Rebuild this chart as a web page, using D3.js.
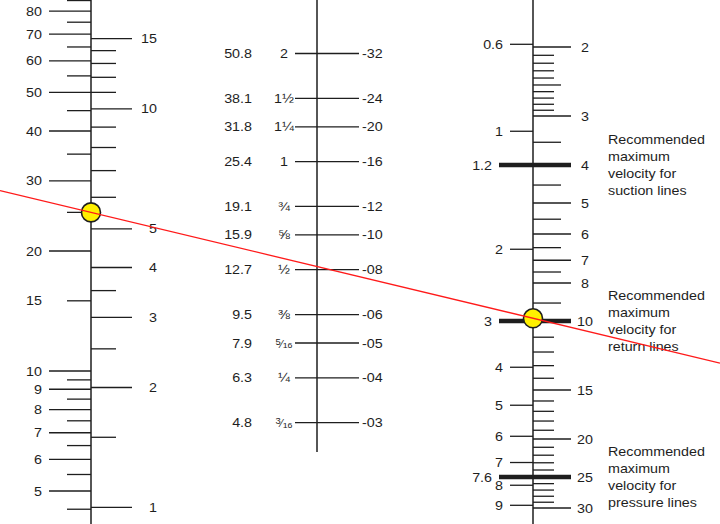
<!DOCTYPE html>
<html>
<head>
<meta charset="utf-8">
<script src="https://cdn.jsdelivr.net/npm/d3@7"></script>
<style>
  html, body { margin: 0; padding: 0; background: #fff; }
  svg { display: block; font-family: "Liberation Sans", Arial, Helvetica, sans-serif; }
  text { fill: #1e1e1e; }
</style>
</head>
<body>
<svg id="chart" width="720" height="524"></svg>
<script>
// ---- Flow scale (left): litres per minute and UK gallons per minute ----
const flowLpmLabels = [80, 70, 60, 50, 40, 30, 20, 15, 10, 9, 8, 7, 6, 5, 4];
const flowLpmMinor  = [85, 75, 65, 55, 45, 35, 25, 9.5, 8.5, 7.5, 6.5, 5.5, 4.5];
const flowGpmLabels = [15, 10, 5, 4, 3, 2, 1];
const flowGpmMinor  = [14, 13, 12, 11, 9, 8, 7, 6, 3.5, 2.5, 1.5];
const litresPerGallon = 4.546;

// ---- Pipe bore (middle): mm, inches, dash size ----
const boreMm     = ["50.8", "38.1", "31.8", "25.4", "19.1", "15.9", "12.7", "9.5", "7.9", "6.3", "4.8"];
const boreInches = [2, 1.5, 1.25, 1, 0.75, 0.625, 0.5, 0.375, 0.3125, 0.25, 0.1875];
const boreInchLabels = ["2", "1½", "1¼", "1", "¾", "⅝", "½", "⅜", "5/16", "¼", "3/16"];
const boreDash   = ["-32", "-24", "-20", "-16", "-12", "-10", "-08", "-06", "-05", "-04", "-03"];

// ---- Velocity scale (right): metres per second and feet per second ----
const velMsLabels  = [0.6, 1, 2, 4, 5, 6, 7, 8, 9];
const velFtLabels  = [2, 3, 5, 6, 7, 8, 15, 20, 30];
const velFtHalf    = [2.5, 3.5, 4.5, 5.5, 6.5, 7.5, 9];
const velFtSmall   = [2.1, 2.2, 2.3, 2.4, 2.6, 2.7, 2.8, 2.9,
                      11, 12, 13, 14, 16, 17, 18, 19, 21, 22, 23, 24, 26, 27, 28, 29];
const feetPerMetre = 0.3048;

// Recommended maximum velocities (m/s, ft/s)
const recommendedMs = ["1.2", "3", "7.6"];
const recommendedFt = [4, 10, 25];
const recommendedText = [
  ["Recommended", "maximum", "velocity for", "suction lines"],
  ["Recommended", "maximum", "velocity for", "return lines"],
  ["Recommended", "maximum", "velocity for", "pressure lines"]
];

// Worked example: 25 L/min at 3 m/s
const exampleFlowLpm = 25;
const exampleVelMs = 3;

// ---------------------------------------------------------------
const svg = d3.select("#chart");
const W = 720, H = 524;
const xL = 91, xM = 317, xR = 533;
const ink = "#1e1e1e";

const yFlow = d3.scaleLog().domain([10, 100]).range([371, -27.6]);
const yBore = d3.scaleLog().domain([1, 2]).range([161.6, 53.5]);
const yVel  = d3.scaleLog().domain([2, 30]).range([47, 508]);
const yMs = v => yVel(v / feetPerMetre);

function label(x, y, str, anchor, size) {
  const g = svg.append("g").attr("transform", `translate(${x},${y}) scale(1.1,1)`);
  const t = g.append("text").attr("text-anchor", anchor).attr("font-size", size || 13);
  return t.text(str);
}
function tick(x1, x2, y, w) {
  svg.append("line").attr("x1", x1).attr("x2", x2).attr("y1", y).attr("y2", y)
    .attr("stroke", ink).attr("stroke-width", w || 1.3);
}

// ---- Axis lines ----
[[xL, 0, H], [xM, 0, 452], [xR, 0, H]].forEach(([x, a, b]) => {
  svg.append("line").attr("x1", x).attr("x2", x).attr("y1", a).attr("y2", b)
    .attr("stroke", ink).attr("stroke-width", 1.5);
});

// ---- Left: flow ----
flowLpmMinor.forEach(v => tick(xL - 24, xL, yFlow(v)));
flowLpmLabels.forEach(v => {
  const y = yFlow(v);
  tick(v === 15 ? xL - 24 : xL - 42, xL, y);
  label(42, y + 4.6, String(v), "end");
});
flowGpmMinor.forEach(v => tick(xL, xL + 25, yFlow(v * litresPerGallon)));
flowGpmLabels.forEach(v => {
  const y = yFlow(v * litresPerGallon);
  tick(xL, xL + 41, y);
  label(157, y + 4.6, String(v), "end");
});

// ---- Middle: bore ----
boreInches.forEach((d, i) => {
  const y = yBore(d);
  tick(295, 359, y);
  label(252, y + 4.6, boreMm[i], "end", 13);
  const s = boreInchLabels[i];
  if (s.includes("/")) {
    const [num, den] = s.split("/");
    const g = svg.append("g").attr("transform", `translate(284,${y + 4.6}) scale(1.1,1)`);
    const t = g.append("text").attr("text-anchor", "middle").attr("font-size", 8.5);
    t.append("tspan").attr("dy", -3).text(num);
    t.append("tspan").attr("dy", 3).attr("font-size", 10).text("⁄");
    t.append("tspan").attr("dy", 0.5).attr("font-size", 8).text(den);
  } else {
    label(284, y + 4.6, s, "middle", 13);
  }
  label(362, y + 4.6, boreDash[i], "start", 13);
});

// ---- Right: velocity ----
velFtSmall.forEach(v => tick(xR, xR + 21, yVel(v)));
velFtHalf.forEach(v => tick(xR, xR + 28, yVel(v)));
velFtLabels.forEach(v => {
  const y = yVel(v);
  tick(xR, xR + 38, y);
  label(585, y + 4.6, String(v), "middle");
});
velMsLabels.forEach(v => {
  const y = yMs(v);
  tick(xR - 23, xR, y);
  label(503, y + 4.6, String(v), "end");
});

// Recommended-velocity bars with their notes
recommendedFt.forEach((v, i) => {
  const y = yVel(v);
  tick(499, 571, y, 4.5);
  label(492, y + 4.6, recommendedMs[i], "end");
  label(585, y + 4.6, String(v), "middle");
  const lines = recommendedText[i];
  const top = y - (lines.length - 1) * 17 / 2 + 4.6;
  lines.forEach((s, j) => label(608, top + j * 17, s, "start"));
});

// ---- Worked example line ----
const p1 = [xL, yFlow(exampleFlowLpm)];
const p2 = [xR, yMs(exampleVelMs)];
const slope = (p2[1] - p1[1]) / (p2[0] - p1[0]);
[p1, p2].forEach(p => {
  svg.append("circle").attr("cx", p[0]).attr("cy", p[1]).attr("r", 9.5)
    .attr("fill", "#fff000").attr("stroke", ink).attr("stroke-width", 1.6);
});
svg.append("line")
  .attr("x1", 0).attr("y1", p1[1] - slope * p1[0])
  .attr("x2", W).attr("y2", p1[1] + slope * (W - p1[0]))
  .attr("stroke", "#ff1a1a").attr("stroke-width", 1.3);
</script>
</body>
</html>
